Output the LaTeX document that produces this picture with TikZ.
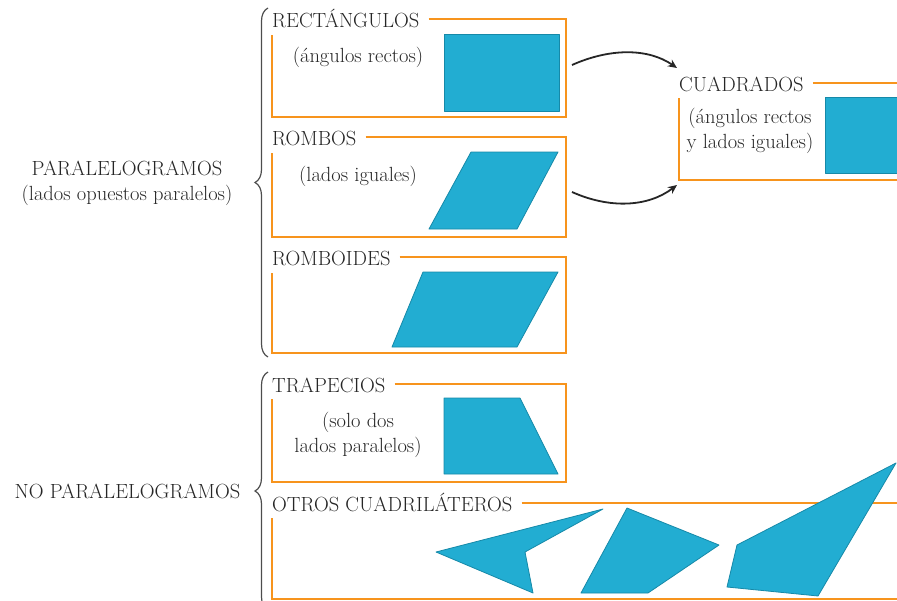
\documentclass[tikz,border=0pt]{standalone}
\usetikzlibrary{arrows.meta,decorations.pathreplacing,calc}
\definecolor{frameor}{HTML}{F7941D}
\definecolor{shapefill}{HTML}{22ADD2}
\definecolor{shapeedge}{HTML}{1689A8}
\definecolor{txt}{HTML}{262626}
\definecolor{bracec}{HTML}{4D4D4D}
\begin{document}
\begin{tikzpicture}[x=1pt,y=-1pt,
  title/.style={anchor=west, inner sep=0pt, text height=16pt, text depth=0pt, text=txt, font=\fontsize{20.5}{25}\selectfont},
  note/.style={align=center, inner sep=0pt, text=txt, font=\fontsize{20.5}{25}\selectfont},
  frame/.style={draw=frameor, line width=2pt},
  quad/.style={fill=shapefill, draw=shapeedge, line width=0.8pt, line join=round},
  bracestyle/.style={draw=bracec, line width=1.2pt, decorate, decoration={brace, amplitude=13pt}},
  link/.style={draw=black!85, line width=1.8pt, -{Stealth[length=9pt,width=8pt]}}]
\clip (0,0) rectangle (897,600);

% group labels and braces
\node[note] (para) at (127,183.5) {PARALELOGRAMOS\\(lados opuestos paralelos)};
\node[note] (nopara) at (127.5,491) {NO PARALELOGRAMOS};
\draw[bracestyle] (268,357) -- (268,8);
\draw[bracestyle] (268,610) -- (268,372);

% RECTANGULOS
\node[title] (t1) at (272,19) {RECTÁNGULOS};
\draw[frame] ([xshift=9pt]t1.east) -- (566,19) -- (566,117) -- (272,117) -- (272,35);
\node[note] (n1) at (358,57) {(ángulos rectos)};
\draw[quad] (444,34) rectangle (559,111);

% ROMBOS
\node[title] (t2) at (272,137) {ROMBOS};
\draw[frame] ([xshift=9pt]t2.east) -- (566,137) -- (566,237) -- (272,237) -- (272,153);
\node[note] (n2) at (358,176) {(lados iguales)};
\draw[quad] (471,152) -- (558,152) -- (517,229) -- (429,229) -- cycle;

% ROMBOIDES
\node[title] (t3) at (272,257) {ROMBOIDES};
\draw[frame] ([xshift=9pt]t3.east) -- (566,257) -- (566,353) -- (272,353) -- (272,273);
\draw[quad] (423,272) -- (558,272) -- (517,347) -- (392,347) -- cycle;

% TRAPECIOS
\node[title] (t4) at (272,384) {TRAPECIOS};
\draw[frame] ([xshift=9pt]t4.east) -- (566,384) -- (566,482) -- (272,482) -- (272,399);
\node[note] (n4) at (358,434.5) {(solo dos\\lados paralelos)};
\draw[quad] (444,398) -- (520,398) -- (558,474) -- (444,474) -- cycle;

% OTROS CUADRILATEROS
\node[title] (t5) at (272,503) {OTROS CUADRILÁTEROS};
\draw[frame] ([xshift=9pt]t5.east) -- (905,503) -- (905,599) -- (272,599) -- (272,518);
\draw[quad] (436,552) -- (603,509) -- (525,552) -- (533,593) -- cycle;
\draw[quad] (627,508) -- (719,545) -- (648,593) -- (581,593) -- cycle;
\draw[quad] (896,463) -- (818,596) -- (727,587) -- (737,545) -- cycle;

% CUADRADOS
\node[title] (t6) at (679,83) {CUADRADOS};
\draw[frame] ([xshift=9pt]t6.east) -- (905,83) -- (905,180) -- (679,180) -- (679,98);
\node[note] (n6) at (750,130.5) {(ángulos rectos\\y lados iguales)};
\draw[quad] (825,97) rectangle (910,173);

% arrows
\coordinate (a1s) at (572,65);
\coordinate (a1e) at (677,68);
\coordinate (a2s) at (572,192);
\coordinate (a2e) at (677,185);
\draw[link] (a1s) .. controls (610,48) and (648,48) .. (a1e);
\draw[link] (a2s) .. controls (610,209) and (648,207) .. (a2e);
\end{tikzpicture}
\end{document}
